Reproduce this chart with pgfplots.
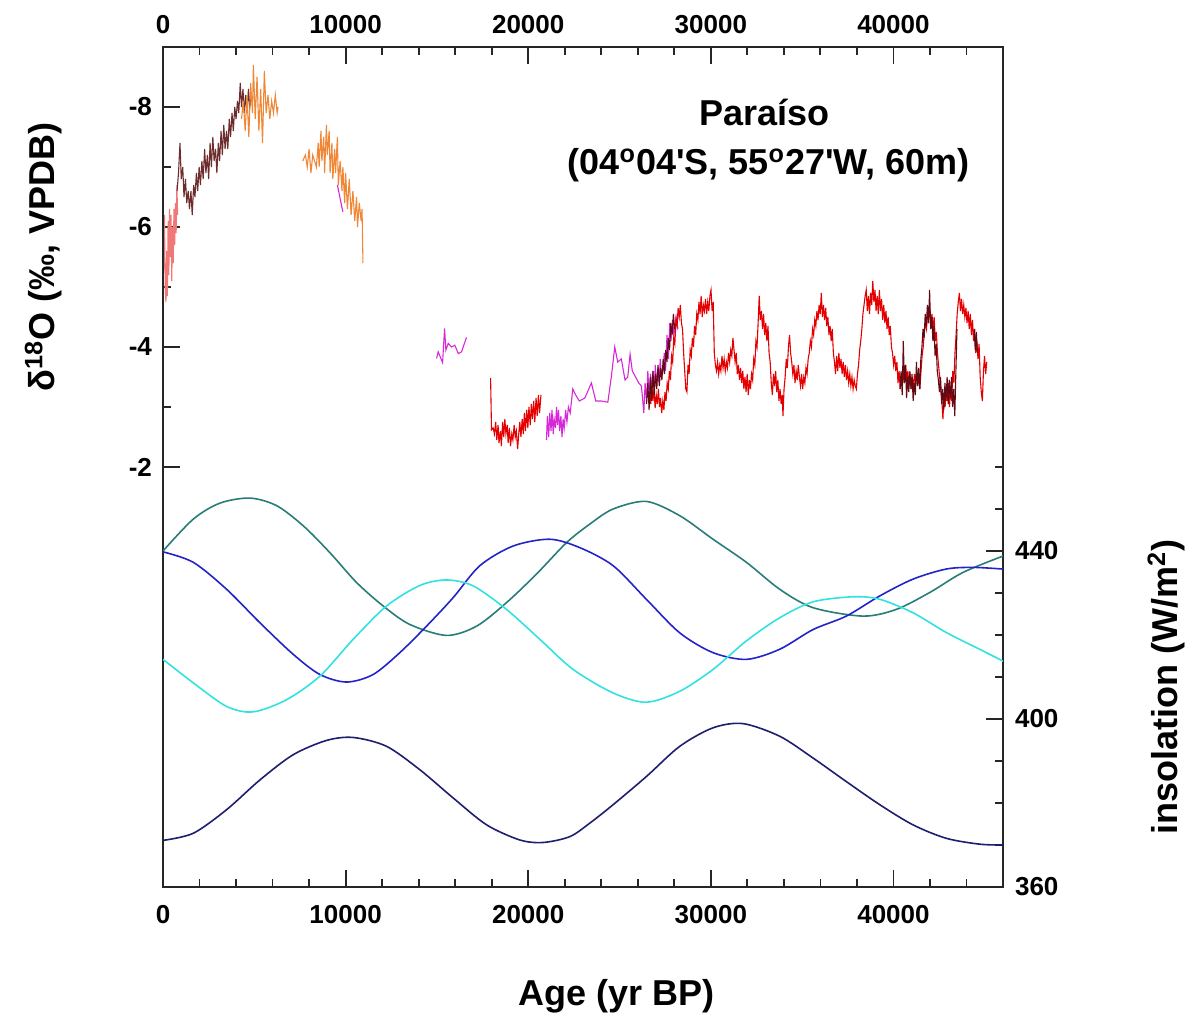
\documentclass[border=0pt]{standalone}
\usepackage{fontspec}
\setmainfont{Liberation Sans}[Ligatures=TeXOff]
\usepackage{pgfplots}
\pgfplotsset{compat=1.18}
\definecolor{cTeal}{RGB}{40,125,120}
\definecolor{cBlue}{RGB}{35,35,200}
\definecolor{cCyan}{RGB}{50,225,225}
\definecolor{cNavy}{RGB}{30,30,110}
\definecolor{cRed}{RGB}{228,0,0}
\definecolor{cDark}{RGB}{100,10,20}
\definecolor{cPink}{RGB}{240,120,120}
\definecolor{cBrown}{RGB}{110,45,45}
\definecolor{cOrange}{RGB}{240,135,55}
\definecolor{cMag}{RGB}{215,40,215}
\pgfplotsset{
  base/.style={
    scale only axis, width=420pt, height=420pt,
    xmin=0, xmax=46000,
    scaled x ticks=false, scaled y ticks=false,
    tick align=inside,
    major tick length=8.5pt, minor tick length=4pt,
    axis line style={line width=0.9pt, black!85},
    tick style={line width=0.9pt, black!85},
    tick label style={font=\fontsize{13}{15}\selectfont\bfseries},
    label style={font=\fontsize{18}{21}\selectfont\bfseries},
    xtick={0,10000,20000,30000,40000},
    xticklabels={0,10000,20000,30000,40000},
    minor xtick={2000,4000,6000,8000,12000,14000,16000,18000,22000,24000,26000,28000,32000,34000,36000,38000,42000,44000},
  },
  dat/.style={line width=0.55pt},
  ins/.style={line width=0.8pt, smooth},
}
\begin{document}
\begin{tikzpicture}
\useasboundingbox (-81.5pt,-65pt) rectangle (515pt,443.5pt);
% ---------- delta18O axis ----------
\begin{axis}[base,
  ymin=-9, ymax=5, y dir=reverse,
  xtick pos=right, xticklabel pos=right,
  xticklabel style={yshift=3pt},
  ytick={-8,-6,-4,-2}, yticklabels={-8,-6,-4,-2},
  minor ytick={-7,-5,-3},
  ytick pos=left,
  yticklabel style={xshift=-2pt},
  ylabel={δ\textsuperscript{18}O (‰, VPDB)},
  ylabel style={at={(axis description cs:-0.1286,0.75)}, anchor=base, rotate=0},
]
% pink
\addplot[dat, cPink] coordinates {
(0,-6.0) (40,-5.3) (80,-6.2) (120,-5.0) (160,-4.75) (200,-5.6) (240,-4.85) (280,-6.1) (320,-5.2) (360,-6.3) (400,-5.5) (440,-6.2) (480,-5.1) (520,-6.0) (560,-5.4) (600,-6.3) (640,-5.7) (680,-6.4) (720,-5.9) (760,-6.7) (800,-6.2)
};
% brown
\addplot[dat, cBrown] coordinates {
(770,-6.6) (850,-6.9) (930,-7.4) (1000,-6.8) (1080,-7.0) (1150,-6.5) (1230,-6.8) (1300,-6.4) (1380,-6.6) (1450,-6.3) (1530,-6.6) (1600,-6.2) (1680,-6.7) (1750,-6.5) (1830,-6.9) (1900,-6.6) (1980,-7.0) (2050,-6.7) (2130,-7.1) (2200,-6.8) (2280,-7.3) (2350,-6.9) (2430,-7.2) (2500,-6.8) (2580,-7.4) (2650,-7.0) (2730,-7.5) (2800,-7.1) (2880,-7.3) (2950,-6.9) (3030,-7.4) (3100,-7.1) (3180,-7.6) (3250,-7.2) (3330,-7.7) (3400,-7.3) (3480,-7.6) (3550,-7.3) (3630,-7.8) (3700,-7.5) (3780,-7.9) (3850,-7.6) (3930,-8.0) (4000,-7.8) (4080,-8.1) (4150,-7.9) (4230,-8.4) (4300,-8.0) (4380,-8.3) (4450,-7.9) (4530,-8.2) (4600,-7.9) (4680,-8.3) (4750,-8.0) (4850,-8.2)
};
% orange 1
\addplot[dat, cOrange] coordinates {
(4300,-7.8) (4400,-8.1) (4500,-7.6) (4600,-8.2) (4700,-7.5) (4800,-8.4) (4900,-7.9) (4950,-8.7) (5050,-7.8) (5150,-8.5) (5250,-7.6) (5350,-8.3) (5450,-7.4) (5550,-8.6) (5650,-7.9) (5750,-8.2) (5850,-7.8) (5950,-8.1) (6050,-7.9) (6150,-8.2) (6250,-7.9) (6300,-8.0)
};
% orange 2
\addplot[dat, cOrange] coordinates {
(7650,-7.1) (7800,-7.2) (7900,-7.0) (8000,-7.3) (8100,-6.9) (8200,-7.2) (8300,-7.1) (8400,-7.0) (8500,-7.4) (8550,-7.0) (8650,-7.6) (8700,-7.1) (8800,-7.5) (8850,-6.9) (8950,-7.7) (9000,-7.2) (9100,-7.6) (9150,-6.9) (9250,-7.4) (9300,-6.8) (9400,-7.3) (9450,-6.9) (9550,-7.5) (9600,-6.7) (9700,-7.1) (9800,-6.6) (9850,-7.0) (9950,-6.4) (10000,-6.9) (10100,-6.3) (10200,-6.8) (10300,-6.2) (10400,-6.6) (10500,-6.1) (10600,-6.5) (10650,-6.0) (10750,-6.4) (10850,-6.1) (10900,-6.3) (10950,-5.4)
};
% magenta pieces
\addplot[dat, cMag] coordinates {(9550,-6.7) (9850,-6.25)};
\addplot[dat, cMag] coordinates {
(14980,-3.81) (15070,-3.92) (15310,-3.74) (15420,-4.31) (15490,-3.95) (15620,-4.06) (15800,-4.0) (15980,-4.03) (16170,-3.89) (16350,-3.92) (16620,-4.16)
};
% red 1
\addplot[dat, cRed] coordinates {
(17940,-3.48) (17990,-2.62) (18080,-2.65) (18150,-2.55) (18220,-2.75) (18280,-2.45) (18350,-2.7) (18400,-2.4) (18480,-2.6) (18530,-2.35) (18600,-2.75) (18660,-2.5) (18720,-2.8) (18780,-2.55) (18850,-2.7) (18900,-2.4) (18970,-2.65) (19030,-2.35) (19100,-2.55) (19160,-2.45) (19230,-2.7) (19290,-2.5) (19350,-2.6) (19420,-2.3) (19480,-2.55) (19540,-2.75) (19600,-2.5) (19670,-2.8) (19730,-2.55) (19790,-2.9) (19850,-2.6) (19920,-2.95) (19980,-2.65) (20040,-3.0) (20110,-2.7) (20170,-3.05) (20230,-2.8) (20300,-3.1) (20360,-2.75) (20430,-3.15) (20490,-2.85) (20560,-3.2) (20620,-2.9) (20700,-3.2)
};
% magenta B
\addplot[dat, cMag] coordinates {
(21000,-2.45) (21050,-2.85) (21120,-2.5) (21180,-2.9) (21250,-2.6) (21300,-2.95) (21370,-2.55) (21420,-2.8) (21490,-2.65) (21550,-3.0) (21600,-2.7) (21660,-2.95) (21720,-2.6) (21790,-2.85) (21850,-2.5) (21910,-2.8) (21970,-2.65) (22050,-2.95) (22120,-2.75) (22200,-3.0) (22300,-2.9) (22440,-3.3) (22600,-3.2) (22800,-3.1) (23100,-3.15) (23460,-3.4) (23700,-3.1) (24000,-3.1) (24360,-3.08) (24550,-3.5) (24740,-4.0) (24900,-3.75) (25100,-3.8) (25300,-3.45) (25450,-3.5) (25580,-3.88) (25700,-3.6) (25880,-3.5) (26050,-3.4) (26200,-3.35) (26330,-2.9) (26400,-3.4) (26480,-3.1) (26550,-3.6) (26620,-3.2) (26700,-3.55) (26760,-3.25) (26830,-3.6) (26900,-3.3) (26960,-3.7) (27030,-3.35) (27100,-3.65) (27170,-3.4) (27230,-3.8) (27300,-3.5) (27380,-3.6) (27450,-3.9) (27520,-3.6) (27600,-4.2) (27680,-3.8) (27750,-4.4) (27820,-4.1) (27900,-4.45) (27980,-4.2) (28100,-4.5) (28200,-4.3)
};
% red 2
\addplot[dat, cRed] coordinates {
(26650,-3.25) (26710,-3.05) (26770,-3.35) (26830,-3.10) (26890,-3.30) (26950,-2.98) (27010,-3.20) (27070,-3.05) (27130,-3.30) (27190,-3.00) (27250,-3.15) (27310,-2.90) (27370,-3.10) (27430,-2.95) (27490,-3.25) (27550,-3.10) (27610,-3.40) (27670,-3.30) (27730,-3.60) (27790,-3.45) (27850,-3.85) (27910,-3.75) (27970,-4.15) (28030,-4.05) (28090,-4.45) (28150,-4.35) (28210,-4.65) (28270,-4.50) (28330,-4.70) (28390,-4.40) (28450,-4.30) (28510,-3.90) (28570,-3.60) (28630,-3.30) (28690,-3.25) (28750,-3.70) (28810,-3.55) (28870,-3.95) (28930,-3.85) (28990,-4.15) (29050,-4.00) (29110,-4.35) (29170,-4.20) (29230,-4.55) (29290,-4.45) (29350,-4.75) (29410,-4.55) (29470,-4.85) (29530,-4.50) (29590,-4.70) (29650,-4.60) (29710,-4.80) (29770,-4.55) (29830,-4.75) (29890,-4.60) (29950,-4.85) (30010,-4.95) (30070,-4.60) (30130,-4.75) (30190,-3.90) (30250,-3.70) (30310,-3.60) (30370,-3.75) (30430,-3.55) (30490,-3.70) (30550,-3.60) (30610,-3.85) (30670,-3.65) (30730,-3.80) (30790,-3.60) (30850,-3.75) (30910,-3.65) (30970,-3.90) (31030,-3.75) (31090,-3.95) (31150,-3.85) (31210,-4.15) (31270,-3.95) (31330,-3.75) (31390,-3.90) (31450,-3.55) (31510,-3.70) (31570,-3.45) (31630,-3.65) (31690,-3.40) (31750,-3.60) (31810,-3.30) (31870,-3.50) (31930,-3.25) (31990,-3.55) (32050,-3.20) (32110,-3.45) (32170,-3.30) (32230,-3.55) (32290,-3.45) (32350,-3.80) (32410,-3.70) (32470,-4.10) (32530,-4.00) (32590,-4.40) (32650,-4.85) (32710,-4.45) (32770,-4.60) (32830,-4.30) (32890,-4.55) (32950,-4.20) (33010,-4.40) (33070,-4.10) (33130,-4.35) (33190,-3.90) (33250,-3.75) (33310,-3.40) (33370,-3.20) (33430,-3.55) (33490,-3.35) (33550,-3.60) (33610,-3.25) (33670,-3.45) (33730,-3.10) (33790,-3.30) (33850,-3.05) (33910,-3.20) (33950,-2.85) (34010,-3.30) (34070,-3.50) (34130,-3.80) (34190,-3.65) (34250,-4.00) (34310,-4.20) (34370,-3.90) (34430,-3.75) (34490,-3.55) (34550,-3.70) (34610,-3.40) (34670,-3.60) (34730,-3.45) (34790,-3.70) (34850,-3.50) (34910,-3.35) (34970,-3.55) (35030,-3.30) (35090,-3.50) (35150,-3.40) (35210,-3.65) (35270,-3.55) (35330,-3.80) (35390,-3.90) (35450,-4.10) (35510,-4.00) (35570,-4.30) (35630,-4.20) (35690,-4.45) (35750,-4.35) (35810,-4.60) (35870,-4.45) (35930,-4.70) (35990,-4.55) (36050,-4.90) (36110,-4.50) (36170,-4.70) (36230,-4.45) (36290,-4.65) (36350,-4.35) (36410,-4.50) (36470,-4.20) (36530,-4.35) (36590,-4.10) (36650,-4.30) (36710,-3.90) (36770,-3.75) (36830,-3.55) (36890,-3.85) (36950,-3.60) (37010,-3.90) (37070,-3.65) (37130,-3.80) (37190,-3.55) (37250,-3.75) (37310,-3.50) (37370,-3.70) (37430,-3.45) (37490,-3.60) (37550,-3.40) (37610,-3.55) (37670,-3.35) (37730,-3.50) (37790,-3.30) (37850,-3.45) (37910,-3.35) (37970,-3.30) (38030,-3.55) (38090,-3.70) (38150,-3.95) (38210,-4.10) (38270,-4.30) (38330,-4.55) (38390,-4.70) (38450,-4.85) (38510,-4.95) (38570,-4.60) (38630,-4.85) (38690,-4.55) (38750,-4.90) (38810,-4.70) (38870,-5.10) (38930,-4.75) (38990,-4.95) (39050,-4.60) (39110,-4.85) (39170,-4.55) (39230,-4.95) (39290,-4.60) (39350,-4.80) (39410,-4.45) (39470,-4.70) (39530,-4.40) (39590,-4.60) (39650,-4.30) (39710,-4.50) (39770,-4.20) (39830,-4.35) (39890,-4.00) (39950,-3.90) (40010,-3.70) (40070,-3.85) (40130,-3.60) (40190,-3.75) (40250,-3.40) (40310,-3.60) (40370,-3.30) (40430,-3.55) (40490,-3.35) (40550,-3.60) (40610,-3.40) (40670,-3.70) (40730,-3.45) (40790,-3.60) (40850,-3.35) (40910,-3.55) (40970,-3.30) (41030,-3.50) (41090,-3.30) (41150,-3.55) (41210,-3.40) (41270,-3.60) (41330,-3.35) (41390,-3.55) (41450,-3.30) (41510,-3.60) (41570,-3.85) (41630,-4.00) (41690,-4.25) (41750,-4.40) (41810,-4.30) (41870,-4.55) (41930,-4.45) (41990,-4.65) (42050,-4.40) (42110,-4.55) (42170,-4.30) (42230,-4.50) (42290,-4.10) (42350,-4.25) (42410,-3.90) (42470,-3.70) (42530,-3.50) (42590,-3.30) (42650,-3.10) (42710,-2.80) (42770,-3.20) (42830,-3.00) (42890,-3.35) (42950,-3.10) (43010,-3.40) (43070,-3.00) (43130,-3.30) (43190,-3.10) (43250,-3.60) (43310,-3.40) (43370,-3.90) (43430,-4.20) (43490,-4.55) (43550,-4.75) (43610,-4.90) (43670,-4.60) (43730,-4.80) (43790,-4.55) (43850,-4.70) (43910,-4.50) (43970,-4.65) (44030,-4.40) (44090,-4.60) (44150,-4.30) (44210,-4.55) (44270,-4.20) (44330,-4.45) (44390,-4.10) (44450,-4.30) (44510,-3.90) (44570,-4.10) (44630,-3.80) (44690,-4.05) (44750,-3.50) (44810,-3.25) (44870,-3.10) (44930,-3.60) (44990,-3.85) (45050,-3.55) (45110,-3.75)
};
% dark overlays
\addplot[dat, cDark] coordinates {
(26480,-3.05) (26550,-3.40) (26620,-2.95) (26690,-3.50) (26760,-3.10) (26830,-3.60) (26900,-3.20) (26970,-3.55) (27040,-3.30) (27110,-3.70) (27180,-3.35) (27250,-3.65) (27320,-3.45) (27390,-3.80) (27460,-3.55) (27530,-3.95) (27600,-3.75) (27670,-4.15) (27740,-3.95) (27810,-4.40) (27880,-4.20) (27950,-4.55) (28020,-4.30)
};
\addplot[dat, cDark] coordinates {
(40360,-3.30) (40420,-3.60) (40480,-3.20) (40540,-4.10) (40600,-3.40) (40660,-3.70) (40720,-3.15) (40780,-3.50) (40840,-3.25) (40900,-3.60) (40960,-3.30) (41020,-3.55) (41080,-3.10) (41140,-3.40) (41200,-3.20) (41260,-3.75) (41320,-3.35) (41380,-3.65) (41440,-3.30) (41500,-3.80) (41560,-4.00) (41620,-4.30) (41680,-4.15) (41740,-4.55) (41800,-4.35) (41860,-4.70) (41920,-4.40) (41980,-4.95) (42040,-4.30) (42100,-4.50) (42160,-4.10) (42220,-4.35) (42280,-3.85) (42340,-4.05) (42400,-3.60) (42460,-3.45) (42520,-3.25) (42580,-3.50) (42640,-3.05) (42700,-3.30) (42760,-2.95) (42820,-3.40) (42880,-3.10) (42940,-3.50) (43000,-3.05) (43060,-3.45) (43120,-3.15) (43180,-3.50) (43240,-3.00) (43300,-3.30) (43360,-2.85) (43420,-3.60) (43480,-4.30)
};
\addplot[dat, cDark] coordinates {(44420,-4.3) (44480,-3.95) (44540,-4.25) (44600,-3.9)};
% title
\node[font=\fontsize{18}{21}\selectfont\bfseries, anchor=base] at (axis description cs:0.716,0.907) {Paraíso};
\node[font=\fontsize{18}{21}\selectfont\bfseries, anchor=base] at (axis description cs:0.721,0.848) {(04\textsuperscript{o}04'S, 55\textsuperscript{o}27'W, 60m)};
\end{axis}
% ---------- insolation axis ----------
\begin{axis}[base,
  ymin=360, ymax=560,
  xtick pos=left, xticklabel pos=left,
  xticklabel style={yshift=-5.5pt},
  ytick={360,400,440}, yticklabels={360,400,440},
  minor ytick={370,380,390,410,420,430,450,460},
  ytick pos=right, yticklabel pos=right,
  yticklabel style={xshift=2.5pt},
  xlabel={Age (yr BP)},
  xlabel style={at={(axis description cs:0.540,-0.1405)}, anchor=base},
  ylabel={insolation (W/m\textsuperscript{2})},
  ylabel style={at={(axis description cs:1.208,0.238)}, anchor=base, rotate=0},
]
\addplot[ins, cTeal] coordinates {
(0,440.0) (1660,447.6) (3120,451.4) (4760,452.6) (6220,450.8) (7680,446.0) (9140,439.6) (10600,432.5) (12060,426.9) (13520,422.5) (15530,419.9) (17170,422.1) (18810,427.7) (20450,434.5) (22100,442.0) (23370,446.4) (24650,450.0) (26470,451.8) (28300,448.4) (30120,442.8) (31950,437.3) (33770,430.9) (35600,426.5) (38330,424.5) (40160,426.1) (41980,430.1) (43810,434.9) (46000,438.8)
};
\addplot[ins, cBlue] coordinates {
(0,439.8) (1660,437.3) (3480,430.9) (5310,422.9) (7130,415.4) (8590,410.6) (10050,408.8) (11510,410.6) (12970,415.8) (14430,422.1) (15890,428.9) (17350,436.5) (19180,441.2) (21180,442.8) (22824,440.8) (24650,436.5) (26470,428.5) (28300,420.5) (30120,415.8) (31950,414.2) (33770,416.6) (35600,421.3) (37420,424.5) (39250,429.3) (41070,433.3) (42890,435.7) (44350,436.1) (46000,435.7)
};
\addplot[ins, cCyan] coordinates {
(0,414.2) (1660,408.6) (3480,403.0) (4940,401.7) (6770,404.6) (8590,410.2) (10420,419.0) (12240,426.9) (14070,431.8) (15530,433.1) (16980,431.7) (18810,426.1) (20630,419.0) (22460,411.8) (24650,406.2) (26470,404.0) (28300,406.6) (30120,411.8) (31950,418.6) (33770,424.1) (35600,427.9) (37790,429.1) (39250,428.5) (41070,425.3) (42890,420.6) (44720,416.6) (46000,413.8)
};
\addplot[ins, cNavy] coordinates {
(0,371.1) (1660,372.8) (3480,378.4) (5310,385.5) (7130,391.5) (8960,394.9) (10420,395.6) (12240,393.5) (14070,387.9) (15890,381.2) (17720,374.8) (19540,371.2) (20820,370.6) (22280,372.0) (23370,375.2) (24650,379.6) (26470,386.3) (28300,393.5) (30120,397.9) (31760,398.9) (33770,395.9) (35600,390.7) (37420,385.1) (39250,379.6) (41070,374.8) (42890,371.6) (44720,370.2) (46000,370.0)
};
\end{axis}
\end{tikzpicture}
\end{document}
